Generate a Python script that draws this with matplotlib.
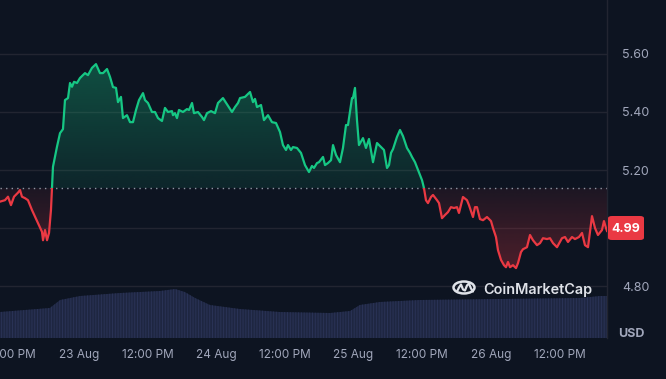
import numpy as np
import matplotlib
matplotlib.use("Agg")
import matplotlib.pyplot as plt
from matplotlib.patches import FancyBboxPatch, Circle, Rectangle

# ---------------- data ----------------
# time in hours since 22 Aug 00:00
hours = [10.19, 11.06, 11.59, 12.11, 12.64, 13.34, 13.69, 14.03, 14.56, 15.08, 15.78, 16.31, 16.83,
         17.53, 17.71, 18.06, 18.41, 18.76, 19.10, 19.28, 19.45, 19.80, 20.15, 20.68, 21.20, 21.55,
         22.08, 22.43, 22.78, 23.13, 23.65, 24.17, 25.05, 25.57, 26.27, 26.97, 27.67, 28.20, 28.90,
         29.42, 29.94, 30.47, 30.82, 31.34, 31.69, 32.39, 32.92, 33.44, 33.97, 34.49, 35.19, 35.54,
         36.06, 36.76, 37.29, 37.81, 38.51, 39.03, 39.56, 40.26, 40.43, 40.78, 41.13, 41.48, 42.18,
         42.88, 43.23, 43.76, 44.10, 44.80, 45.50, 45.85, 46.38, 47.08, 47.78, 48.30, 49.17, 49.87,
         50.75, 51.27, 51.80, 52.15, 53.02, 53.90, 54.42, 54.77, 55.12, 55.82, 56.34, 57.04, 57.74,
         58.44, 59.14, 59.66, 60.19, 60.54, 61.06, 61.41, 62.11, 62.81, 63.51, 64.21, 64.73, 65.08,
         65.61, 65.96, 66.66, 67.01, 67.53, 68.06, 68.41, 68.93, 69.63, 70.15, 70.68, 71.03, 71.73,
         71.90, 72.25, 72.60, 72.95, 73.65, 74.17, 74.70, 75.40, 76.10, 76.97, 77.32, 77.85, 78.20,
         78.55, 78.90, 79.59, 80.12, 80.64, 81.34, 81.87, 82.22, 82.74, 83.27, 83.97, 84.31, 84.66,
         85.01, 85.54, 85.89, 86.59, 86.94, 87.46, 87.99, 88.51, 89.03, 89.56, 90.08, 90.43, 91.13,
         91.83, 92.18, 92.88, 93.23, 93.58, 94.10, 94.63, 95.33, 96.03, 96.38, 96.90, 97.25, 97.78,
         98.30, 98.65, 99.00, 99.35, 99.87, 100.40, 100.75, 101.27, 101.62, 102.32, 102.85, 103.37,
         104.07, 104.60, 105.12, 105.82, 106.34, 106.87, 107.57, 108.44, 108.97, 109.49, 110.19,
         110.71, 111.41, 111.94, 112.46, 112.99, 113.69, 114.21, 114.73, 115.43, 115.78, 116.13, 116.31]
price = [5.091, 5.096, 5.108, 5.079, 5.108, 5.122, 5.131, 5.108, 5.103, 5.096, 5.062, 5.039, 5.017,
         4.987, 4.958, 4.993, 4.958, 4.983, 5.062, 5.138, 5.211, 5.246, 5.280, 5.327, 5.341, 5.441,
         5.448, 5.500, 5.487, 5.504, 5.500, 5.517, 5.534, 5.527, 5.552, 5.565, 5.534, 5.534, 5.548,
         5.521, 5.486, 5.483, 5.434, 5.452, 5.379, 5.389, 5.365, 5.365, 5.407, 5.441, 5.465, 5.441,
         5.431, 5.400, 5.400, 5.379, 5.369, 5.414, 5.400, 5.403, 5.389, 5.396, 5.379, 5.407, 5.400,
         5.410, 5.407, 5.431, 5.396, 5.400, 5.383, 5.372, 5.396, 5.403, 5.396, 5.431, 5.448, 5.427,
         5.400, 5.417, 5.431, 5.448, 5.452, 5.469, 5.434, 5.445, 5.417, 5.424, 5.372, 5.389, 5.365,
         5.362, 5.331, 5.286, 5.269, 5.286, 5.269, 5.279, 5.276, 5.259, 5.217, 5.193, 5.214, 5.207,
         5.224, 5.227, 5.245, 5.217, 5.224, 5.234, 5.286, 5.252, 5.227, 5.276, 5.355, 5.355, 5.448,
         5.448, 5.483, 5.372, 5.286, 5.310, 5.276, 5.307, 5.227, 5.293, 5.276, 5.269, 5.207, 5.217,
         5.259, 5.272, 5.314, 5.338, 5.317, 5.276, 5.259, 5.245, 5.227, 5.200, 5.165, 5.138, 5.096,
         5.086, 5.107, 5.114, 5.096, 5.086, 5.034, 5.045, 5.055, 5.072, 5.069, 5.072, 5.052, 5.107,
         5.096, 5.079, 5.038, 5.072, 5.072, 5.031, 5.027, 5.038, 5.024, 5.000, 4.969, 4.924, 4.890,
         4.872, 4.865, 4.883, 4.865, 4.872, 4.862, 4.879, 4.917, 4.927, 4.934, 4.976, 4.958,
         4.941, 4.948, 4.965, 4.962, 4.965, 4.948, 4.934, 4.965, 4.969, 4.952, 4.969,
         4.962, 4.969, 4.983, 4.941, 4.934, 5.041, 5.000, 4.976, 4.993, 5.024, 5.000, 4.990]
baseline = 5.138
last_price = 4.99

vol_hours = [10.2, 18.9, 20.7, 24.2, 31.2, 38.2, 40.8, 42.5, 44.3, 46.9, 52.1, 59.1, 67.9, 71.4,
             73.1, 76.6, 83.6, 97.6, 111.6, 115.1, 116.31]
volume = [26, 30, 38, 42, 45, 47, 49, 46, 40, 33, 29, 26, 25, 27, 33, 36, 38, 39, 40, 42, 42]

tick_hours = [12, 24, 36, 48, 60, 72, 84, 96, 108]
tick_labels = ["12:00 PM", "23 Aug", "12:00 PM", "24 Aug", "12:00 PM", "25 Aug",
               "12:00 PM", "26 Aug", "12:00 PM"]
ytick_vals = [4.80, 5.00, 5.20, 5.40, 5.60]
ytick_labels = ["4.80", "", "5.20", "5.40", "5.60"]

# ---------------- style ----------------
BG = "#0d1421"
GRID = "#222531"
TXT = "#a1a7bb"
GREEN = "#16c784"
RED = "#ea3943"
plt.rcParams["font.family"] = ["Inter", "DejaVu Sans"]
plt.rcParams["hatch.linewidth"] = 0.7

W, H = 666, 379
fig = plt.figure(figsize=(W / 100, H / 100), dpi=100, facecolor=BG)
rect = [0, 1 - 338 / H, 607 / W, 338 / H]

hours = np.array(hours)
price = np.array(price)
xlim = (hours[0], hours[-1])

# volume axes (behind)
axv = fig.add_axes(rect)
axv.set_facecolor(BG)
axv.set_xlim(*xlim)
axv.set_ylim(0, 338)
axv.fill_between(vol_hours, 0, volume, facecolor="#1e2641", edgecolor="#2a3356",
                 hatch="||||||", linewidth=0)
axv.axis("off")

# price axes
ax = fig.add_axes(rect)
ax.patch.set_visible(False)
ax.set_xlim(*xlim)
ymin, ymax = 4.621, 5.786
ax.set_ylim(ymin, ymax)

for s in ["top", "left", "bottom"]:
    ax.spines[s].set_visible(False)
ax.spines["right"].set_color(GRID)
ax.spines["right"].set_linewidth(1)

ax.yaxis.tick_right()
ax.set_yticks(ytick_vals, ytick_labels)
ax.tick_params(axis="y", length=0, pad=11, labelsize=9, labelcolor=TXT)
ax.set_xticks(tick_hours, tick_labels)
ax.tick_params(axis="x", length=0, pad=8, labelsize=8.5, labelcolor=TXT)
ax.grid(axis="y", color=GRID, linewidth=1)
ax.set_axisbelow(True)

# gradient fills
def grad(color, a_lo, a_hi, y0, y1):
    rgb = np.array(matplotlib.colors.to_rgb(color))
    n = 256
    arr = np.zeros((n, 1, 4))
    arr[:, 0, :3] = rgb
    arr[:, 0, 3] = np.linspace(a_lo, a_hi, n)
    im = ax.imshow(arr, extent=[xlim[0], xlim[1], y0, y1], origin="lower",
                   aspect="auto", zorder=1, interpolation="bilinear")
    return im

up = np.maximum(price, baseline)
dn = np.minimum(price, baseline)
fu = ax.fill_between(hours, baseline, up, color="none", linewidth=0)
fd = ax.fill_between(hours, dn, baseline, color="none", linewidth=0)
img = grad(GREEN, 0.10, 0.34, baseline, 5.58)
img.set_clip_path(fu.get_paths()[0], ax.transData)
imr = grad(RED, 0.30, 0.07, 4.85, baseline)
imr.set_clip_path(fd.get_paths()[0], ax.transData)
ax.set_xlim(*xlim)
ax.set_ylim(ymin, ymax)

# baseline dotted
ax.axhline(baseline, color="#8f96a3", linestyle=(0, (1, 3)), linewidth=1, zorder=2)

# lines clipped above / below baseline
lg, = ax.plot(hours, price, color=GREEN, linewidth=1.6, zorder=3, solid_joinstyle="round")
lr, = ax.plot(hours, price, color=RED, linewidth=1.6, zorder=3, solid_joinstyle="round")
rg = Rectangle((xlim[0], baseline), xlim[1] - xlim[0], ymax - baseline, transform=ax.transData,
               visible=False)
rr = Rectangle((xlim[0], ymin), xlim[1] - xlim[0], baseline - ymin, transform=ax.transData,
               visible=False)
ax.add_patch(rg)
ax.add_patch(rr)
lg.set_clip_path(rg)
lr.set_clip_path(rr)

# current price label
def fx(px):
    return px / W

def fy(py):
    return 1 - py / H

box = FancyBboxPatch((fx(608), fy(240)), fx(644) - fx(608), fy(216) - fy(240),
                     boxstyle="round,pad=0,rounding_size=0.006", transform=fig.transFigure,
                     facecolor=RED, edgecolor="none", zorder=5)
fig.patches.append(box)
fig.text(fx(626), fy(228.5), f"{last_price:.2f}", color="white", fontsize=9, fontweight="bold",
         ha="center", va="center", zorder=6)

fig.text(fx(631), fy(334), "USD", color=TXT, fontsize=9, fontweight="bold", ha="center",
         va="center")

# CoinMarketCap watermark
LOGO = "#dfe2e8"
cx, cy, r = 464, 287.5, 10.5
fig.patches.append(Circle((fx(cx), fy(cy)), r / W, transform=fig.transFigure, fill=False,
                          edgecolor=LOGO, linewidth=1.8, zorder=6))
wx = np.array([-7, -5, -3, -1, 1, 3, 5, 7, 9]) + cx
wy = np.array([4, 0, -3, 2, 3, -2, -4, 1, 4]) + cy
fig.add_artist(plt.Line2D(fx(wx), fy(wy), transform=fig.transFigure, color=LOGO,
                          linewidth=1.6, solid_joinstyle="round", solid_capstyle="round",
                          zorder=6))
fig.text(fx(483), fy(290), "CoinMarketCap", color=LOGO, fontsize=10.4, fontweight="semibold",
         ha="left", va="center", zorder=6)

fig.savefig("out.png", dpi=100, facecolor=BG)
